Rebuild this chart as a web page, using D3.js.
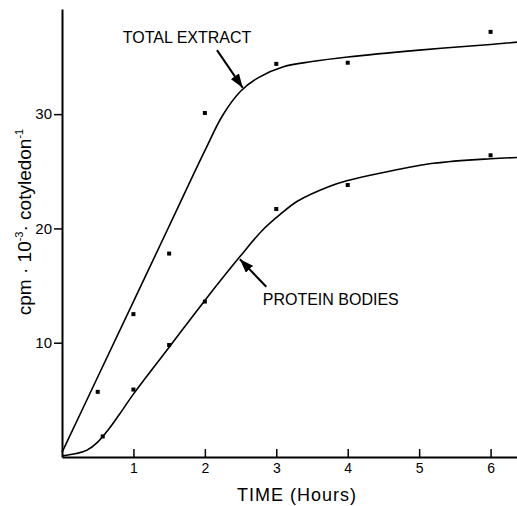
<!DOCTYPE html>
<html>
<head>
<meta charset="utf-8">
<script src="https://cdn.jsdelivr.net/npm/d3@7"></script>
<style>
  body { margin: 0; background: #fff; }
  svg { display: block; font-family: "Liberation Sans", Arial, Helvetica, sans-serif; }
</style>
</head>
<body>
<svg id="chart" width="517" height="506"></svg>
<script>
// measured points (hours, cpm x 10^-3 per cotyledon)
const totalTimes = [0.5, 1, 1.5, 2, 3, 4, 6];
const totalValues = [5.7, 12.5, 17.8, 30.1, 34.4, 34.5, 37.2];
const proteinTimes = [0.57, 1, 1.5, 2, 3, 4, 6];
const proteinValues = [1.8, 5.9, 9.8, 13.6, 21.7, 23.8, 26.4];

// hand-drawn fitted curves
const totalCurveX = [0, 0.5, 1, 1.5, 2, 2.25, 2.5, 2.75, 3.1, 3.5, 4, 5, 6, 6.37];
const totalCurveY = [0.4, 7.0, 13.6, 20.2, 26.8, 29.9, 32.0, 33.2, 34.15, 34.6, 35.0, 35.6, 36.1, 36.3];
const proteinCurveX = [0, 0.2, 0.35, 0.5, 0.65, 0.8, 1, 1.5, 2, 2.5, 2.8, 3.05, 3.3, 3.75, 4, 4.5, 5.2, 6, 6.37];
const proteinCurveY = [0.1, 0.3, 0.6, 1.3, 2.4, 3.7, 5.5, 9.6, 13.7, 17.6, 19.8, 21.2, 22.4, 23.7, 24.2, 24.9, 25.7, 26.1, 26.2];

const xTicks = [1, 2, 3, 4, 5, 6];
const yTicks = [10, 20, 30];

// annotation labels and arrows, in data units
const labels = ["TOTAL EXTRACT", "PROTEIN BODIES"];
const labelPos = [[0.85, 36.2], [2.81, 13.3]];
const arrowFrom = [[2.17, 35.6], [2.86, 14.9]];
const arrowTo = [[2.53, 32.3], [2.49, 17.3]];

const svg = d3.select("#chart");
const x = d3.scaleLinear().domain([0, 6.37]).range([62, 517]);
const y = d3.scaleLinear().domain([0, 39.2]).range([457, 9]);

// axes
const xAxis = svg.append("g")
  .attr("transform", `translate(0,${y(0)})`)
  .call(d3.axisBottom(x).tickValues(xTicks).tickFormat(d3.format("d"))
    .tickSizeInner(-8).tickSizeOuter(0).tickPadding(6));
xAxis.select(".domain").attr("stroke-width", 2);
xAxis.selectAll(".tick line").attr("stroke-width", 1.5);
xAxis.selectAll("text").attr("font-size", 14).attr("fill", "#000");

const yAxis = svg.append("g")
  .attr("transform", `translate(${x(0)},0)`)
  .call(d3.axisLeft(y).tickValues(yTicks).tickSize(8).tickSizeOuter(0).tickPadding(2));
yAxis.select(".domain").attr("stroke-width", 2);
yAxis.selectAll(".tick line").attr("stroke-width", 1.5);
yAxis.selectAll("text").attr("font-size", 15).attr("fill", "#000");

// axis titles
svg.append("text")
  .attr("x", 297).attr("y", 501)
  .attr("text-anchor", "middle")
  .attr("font-size", 18)
  .attr("letter-spacing", 1)
  .text("TIME (Hours)");

const yl = svg.append("text")
  .attr("transform", "translate(31,222) rotate(-90)")
  .attr("text-anchor", "middle")
  .attr("font-size", 19);
yl.append("tspan").text("cpm · 10");
yl.append("tspan").attr("font-size", 11).attr("dy", -8).text("-3");
yl.append("tspan").attr("dy", 8).text("· cotyledon");
yl.append("tspan").attr("font-size", 11).attr("dy", -8).text("-1");

// curves
const line = d3.line().x(d => x(d[0])).y(d => y(d[1])).curve(d3.curveCatmullRom.alpha(0.5));
[[totalCurveX, totalCurveY], [proteinCurveX, proteinCurveY]].forEach(([xs, ys]) => {
  svg.append("path")
    .attr("d", line(xs.map((v, i) => [v, ys[i]])))
    .attr("fill", "none")
    .attr("stroke", "#000")
    .attr("stroke-width", 1.6);
});

// data points
[[totalTimes, totalValues], [proteinTimes, proteinValues]].forEach(([xs, ys]) => {
  svg.append("g").selectAll("rect")
    .data(xs.map((v, i) => [v, ys[i]]))
    .join("rect")
    .attr("x", d => x(d[0]) - 2)
    .attr("y", d => y(d[1]) - 2)
    .attr("width", 4)
    .attr("height", 4)
    .attr("fill", "#000");
});

// arrows
svg.append("defs").append("marker")
  .attr("id", "head")
  .attr("viewBox", "0 0 14 10")
  .attr("refX", 14).attr("refY", 5)
  .attr("markerWidth", 14).attr("markerHeight", 10)
  .attr("markerUnits", "userSpaceOnUse")
  .attr("orient", "auto")
  .append("path")
  .attr("d", "M0,0 L14,5 L0,10 Z")
  .attr("fill", "#000");

arrowFrom.forEach((f, i) => {
  svg.append("line")
    .attr("x1", x(f[0])).attr("y1", y(f[1]))
    .attr("x2", x(arrowTo[i][0])).attr("y2", y(arrowTo[i][1]))
    .attr("stroke", "#000")
    .attr("stroke-width", 2)
    .attr("marker-end", "url(#head)");
});

labels.forEach((t, i) => {
  svg.append("text")
    .attr("x", x(labelPos[i][0]))
    .attr("y", y(labelPos[i][1]))
    .attr("font-size", 16)
    .text(t);
});
</script>
</body>
</html>
